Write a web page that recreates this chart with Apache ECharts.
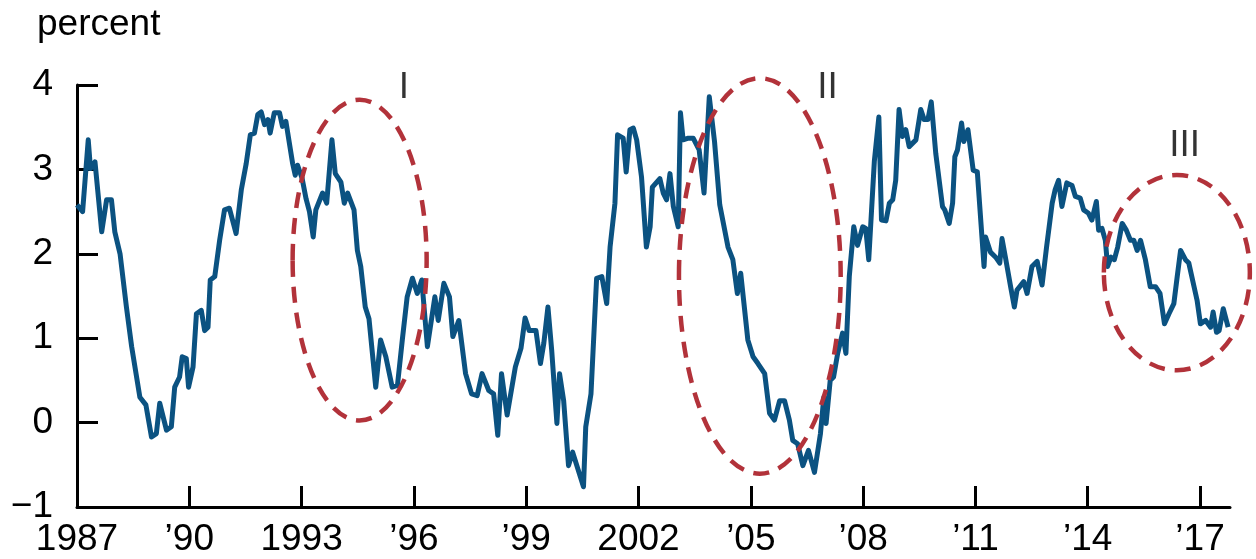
<!DOCTYPE html>
<html>
<head>
<meta charset="utf-8">
<script src="https://cdn.jsdelivr.net/npm/echarts@6/dist/echarts.min.js"></script>
<style>
html,body{margin:0;padding:0;background:#fff;}
#chart{width:1256px;height:559px;}
</style>
</head>
<body>
<div id="chart"></div>
<script>
// ---- data ----
const dates = [
1987.00,1987.15,1987.30,1987.36,1987.48,1987.66,1987.79,1987.92,1988.01,1988.15,
1988.32,1988.46,1988.68,1988.84,1988.99,1989.12,1989.21,1989.39,1989.52,1989.61,
1989.74,1989.81,1989.92,1989.98,1990.10,1990.19,1990.32,1990.41,1990.50,1990.56,
1990.68,1990.81,1990.94,1991.07,1991.25,1991.39,1991.52,1991.63,1991.74,1991.83,
1991.92,1992.01,1992.10,1992.16,1992.27,1992.41,1992.49,1992.58,1992.76,1992.83,
1992.89,1993.01,1993.12,1993.21,1993.31,1993.38,1993.56,1993.67,1993.81,1993.90,
1994.05,1994.14,1994.23,1994.40,1994.49,1994.58,1994.70,1994.80,1994.98,1995.11,
1995.25,1995.42,1995.56,1995.69,1995.82,1995.96,1996.09,1996.21,1996.36,1996.56,
1996.65,1996.80,1996.95,1997.04,1997.20,1997.38,1997.54,1997.69,1997.82,1998.00,
1998.13,1998.24,1998.34,1998.49,1998.71,1998.86,1998.97,1999.08,1999.26,1999.38,
1999.47,1999.58,1999.68,1999.82,1999.89,2000.00,2000.13,2000.24,2000.53,2000.59,
2000.73,2000.88,2001.02,2001.15,2001.24,2001.37,2001.44,2001.59,2001.67,2001.77,
2001.86,2001.95,2002.08,2002.21,2002.31,2002.37,2002.57,2002.66,2002.75,2002.84,
2002.93,2003.06,2003.12,2003.19,2003.33,2003.46,2003.62,2003.75,2003.89,2004.03,
2004.17,2004.39,2004.52,2004.64,2004.73,2004.92,2005.06,2005.19,2005.37,2005.50,
2005.63,2005.77,2005.90,2006.03,2006.12,2006.25,2006.39,2006.54,2006.70,2006.86,
2006.95,2007.01,2007.12,2007.21,2007.32,2007.45,2007.54,2007.63,2007.75,2007.85,
2007.99,2008.07,2008.15,2008.30,2008.42,2008.49,2008.61,2008.70,2008.79,2008.87,
2008.96,2009.05,2009.14,2009.23,2009.41,2009.54,2009.63,2009.73,2009.82,2009.94,
2010.12,2010.18,2010.30,2010.39,2010.45,2010.52,2010.63,2010.69,2010.80,2010.94,
2011.05,2011.23,2011.27,2011.40,2011.54,2011.65,2011.71,2011.80,2011.94,2012.04,
2012.11,2012.29,2012.38,2012.51,2012.65,2012.78,2012.90,2013.05,2013.13,2013.22,
2013.31,2013.44,2013.58,2013.67,2013.80,2013.89,2014.02,2014.11,2014.23,2014.29,
2014.38,2014.47,2014.53,2014.62,2014.71,2014.80,2014.92,2015.03,2015.14,2015.23,
2015.32,2015.41,2015.54,2015.67,2015.81,2015.93,2016.05,2016.17,2016.30,2016.39,
2016.48,2016.61,2016.70,2016.84,2016.92,2017.01,2017.15,2017.28,2017.35,2017.44,
2017.51,2017.62,2017.75
];
const values = [
2.58,2.50,3.35,3.01,3.09,2.26,2.64,2.64,2.26,2.00,
1.37,0.90,0.30,0.21,-0.17,-0.13,0.23,-0.09,-0.05,0.42,
0.54,0.78,0.76,0.42,0.66,1.29,1.33,1.09,1.13,1.69,
1.73,2.16,2.52,2.54,2.24,2.76,3.07,3.41,3.43,3.65,
3.68,3.53,3.59,3.43,3.67,3.67,3.51,3.57,3.07,2.93,
3.05,2.90,2.65,2.50,2.20,2.52,2.72,2.60,3.35,2.95,
2.85,2.60,2.72,2.52,2.04,1.85,1.37,1.23,0.42,0.98,
0.78,0.42,0.44,0.98,1.49,1.71,1.53,1.69,0.90,1.49,
1.21,1.65,1.49,1.02,1.21,0.58,0.34,0.32,0.58,0.38,
0.34,-0.15,0.58,0.09,0.66,0.88,1.24,1.09,1.09,0.70,
0.94,1.37,0.86,-0.01,0.58,0.26,-0.51,-0.35,-0.76,-0.05,
0.34,1.71,1.73,1.41,2.08,2.60,3.41,3.37,2.97,3.47,
3.49,3.35,2.91,2.08,2.32,2.79,2.89,2.72,2.64,2.95,
2.56,2.32,3.67,3.35,3.37,3.37,3.23,2.72,3.86,3.33,
2.58,2.08,1.93,1.53,1.77,0.98,0.78,0.70,0.58,0.11,
0.03,0.26,0.26,0.03,-0.21,-0.25,-0.51,-0.33,-0.59,-0.13,
0.30,-0.01,0.50,0.54,0.82,1.06,0.82,1.73,2.32,2.10,
2.32,2.30,1.93,3.10,3.62,2.40,2.39,2.60,2.64,2.87,
3.71,3.39,3.47,3.27,3.35,3.71,3.59,3.59,3.80,3.19,
2.56,2.52,2.36,2.60,3.15,3.23,3.55,3.33,3.47,2.99,
2.97,1.85,2.20,2.02,1.96,1.89,2.18,1.96,1.61,1.37,
1.57,1.67,1.53,1.85,1.91,1.63,2.08,2.60,2.76,2.87,
2.56,2.84,2.81,2.68,2.66,2.52,2.48,2.40,2.62,2.28,
2.30,2.16,1.85,1.96,1.93,2.08,2.36,2.28,2.16,2.16,
2.04,2.16,1.93,1.61,1.61,1.53,1.17,1.29,1.41,1.73,
2.04,1.93,1.89,1.61,1.45,1.17,1.21,1.13,1.31,1.07,
1.09,1.35,1.13
];
const tickYears = [1987,1990,1993,1996,1999,2002,2005,2008,2011,2014,2017];
const tickLabels = ['1987','\u201990','1993','\u201996','\u201999','2002','\u201905','\u201908','\u201911','\u201914','\u201917'];
// annotation ellipses: center year, center value, half-width (years), half-height (percent)
const ellipseCx = [1994.55, 2005.24, 2016.38];
const ellipseCy = [1.925, 1.738, 1.777];
const ellipseRx = [1.79, 2.16, 1.95];
const ellipseRy = [1.90, 2.343, 1.157];
const periodNames = ['I','II','III'];
const periodX = [1995.73, 2007.05, 2016.59];
const periodY = [3.966, 3.966, 3.28];

const FONT = 'Liberation Sans, Arial, Helvetica, sans-serif';
const chart = echarts.init(document.getElementById('chart'), null, {renderer:'canvas'});
const lineData = dates.map((d,i)=>[d, values[i]]);
const ellData = ellipseCx.map((c,i)=>[c, ellipseCy[i], ellipseRx[i], ellipseRy[i]]);
const labelData = periodNames.map((n,i)=>({name:n, value:[periodX[i], periodY[i]]}));

chart.setOption({
  animation:false,
  backgroundColor:'#ffffff',
  title:{text:'percent', left:32, top:1, textStyle:{fontFamily:FONT, fontSize:37, fontWeight:'normal', color:'#000'}},
  grid:{left:77, right:26, top:85, bottom:52},
  xAxis:{
    type:'value', min:1987, max:2017.8,
    splitLine:{show:false},
    axisLine:{show:true, onZero:false, lineStyle:{color:'#000', width:3}},
    axisTick:{show:true, inside:true, length:21, lineStyle:{color:'#000', width:3}, customValues:tickYears},
    axisLabel:{show:true, margin:14, fontFamily:FONT, fontSize:37, color:'#000', customValues:tickYears,
      formatter:function(v){const i=tickYears.indexOf(Math.round(v)); return i>=0?tickLabels[i]:'';}}
  },
  yAxis:{
    type:'value', min:-1, max:4, interval:1,
    splitLine:{show:false},
    axisLine:{show:true, onZero:false, lineStyle:{color:'#000', width:3}},
    axisTick:{show:true, inside:true, length:21, lineStyle:{color:'#000', width:3}},
    axisLabel:{show:true, margin:24, fontFamily:FONT, fontSize:37, color:'#000',
      formatter:function(v){return v<0 ? '\u2212'+Math.abs(v) : String(v);}}
  },
  series:[
    {type:'line', data:lineData, showSymbol:false, symbol:'none',
     lineStyle:{color:'#0b5281', width:5, join:'round'}, z:2},
    {type:'custom', data:ellData, z:3, clip:false,
     renderItem:function(params, api){
       const c = api.coord([api.value(0), api.value(1)]);
       const s = api.size([api.value(2), api.value(3)], [api.value(0), api.value(1)]);
       return {type:'ellipse', shape:{cx:c[0], cy:c[1], rx:s[0], ry:s[1]},
         style:{fill:null, stroke:'#b2323a', lineWidth:4.5, lineDash:[16,10]}};
     }},
    {type:'scatter', data:labelData, symbolSize:1, itemStyle:{color:'rgba(0,0,0,0)'}, z:4,
     label:{show:true, position:'inside', formatter:'{b}', fontFamily:FONT, fontSize:37, color:'#000'}}
  ]
});
</script>
</body>
</html>
